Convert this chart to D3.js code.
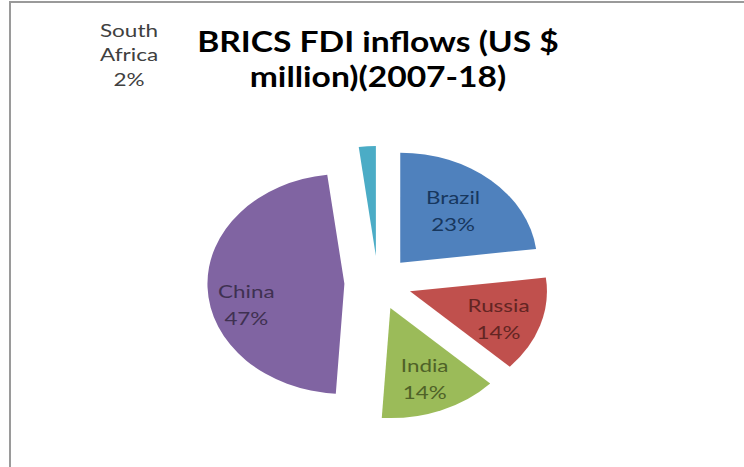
<!DOCTYPE html>
<html>
<head>
<meta charset="utf-8">
<script src="https://cdn.jsdelivr.net/npm/d3@7"></script>
<style>
  html, body { margin: 0; padding: 0; background: #fff; }
  svg { display: block; }
</style>
</head>
<body>
<svg id="chart" width="744" height="467"></svg>
<script>
// BRICS share of FDI inflows, 2007-18
const countries = ["Brazil", "Russia", "India", "China", "South Africa"];
const shares = [23, 14, 14, 47, 2];
const fills = ["#4F81BD", "#C0504D", "#9BBB59", "#8064A2", "#4BACC6"];
const labelInk = ["#17375E", "#632523", "#4F6228", "#3F3151", "#404040"];
const titleLines = ["BRICS FDI inflows (US $", "million)(2007-18)"];

const W = 744, H = 467;
const svg = d3.select("#chart");

// chart area frame (left and top edges)
svg.append("path")
  .attr("d", `M10,${H} L10,2 L${W},2`)
  .attr("fill", "none")
  .attr("stroke", "#9a9a9a")
  .attr("stroke-width", 2);

// title
svg.append("g")
  .attr("transform", "translate(378,0) scale(1.2,1)")
  .selectAll("text")
  .data(titleLines)
  .join("text")
  .attr("x", 0)
  .attr("y", (d, i) => 52 + i * 35)
  .attr("text-anchor", "middle")
  .attr("font-family", "Lato, 'Open Sans', sans-serif")
  .attr("font-weight", "bold")
  .attr("font-size", 28)
  .attr("fill", "#000")
  .text(d => d);

// the plot is wider than tall: draw a circular pie and stretch it horizontally
const sx = 1.245;
const r = 110;
const explode = 27;
const cx = 378, cy = 283;

const pie = d3.pie().sort(null).value(d => d.value);
const slices = pie(countries.map((c, i) => ({ name: c, value: shares[i], i })));

const arc = d3.arc().innerRadius(0).outerRadius(r);
const labelArc = d3.arc().innerRadius(r * 0.68).outerRadius(r * 0.68);

// small best-fit adjustments of the in-slice labels (unstretched units)
const labelShift = { Brazil: [-7, 3], Russia: [0, 4], India: [0, 0], China: [-4, 18] };

const plot = svg.append("g")
  .attr("transform", `translate(${cx},${cy}) scale(${sx},1)`);

const offset = d => {
  const a = (d.startAngle + d.endAngle) / 2;
  return [Math.sin(a) * explode, -Math.cos(a) * explode];
};

plot.selectAll("path.slice")
  .data(slices)
  .join("path")
  .attr("class", "slice")
  .attr("d", arc)
  .attr("fill", d => fills[d.data.i])
  .attr("transform", d => `translate(${offset(d)})`);

// in-slice labels (all but the smallest slice)
const inside = slices.filter(d => d.data.value >= 5);
const lab = plot.selectAll("g.lab")
  .data(inside)
  .join("g")
  .attr("class", "lab")
  .attr("transform", d => {
    const [ox, oy] = offset(d);
    const [lx, ly] = labelArc.centroid(d);
    const [nx, ny] = labelShift[d.data.name] || [0, 0];
    return `translate(${ox + lx + nx},${oy + ly + ny})`;
  });

lab.selectAll("text")
  .data(d => [d.data.name, d.data.value + "%"].map(t => ({ t, i: d.data.i })))
  .join("text")
  .attr("x", 0)
  .attr("y", (d, k) => k === 0 ? -6 : 21)
  .attr("text-anchor", "middle")
  .attr("font-family", "Lato, 'Open Sans', sans-serif")
  .attr("font-size", 18)
  .attr("fill", d => labelInk[d.i])
  .text(d => d.t);

// label for the smallest slice sits outside the pie, top left
const sa = slices.find(d => d.data.value < 5);
const saLines = ["South", "Africa", sa.data.value + "%"];
svg.append("g")
  .attr("transform", "translate(129,0) scale(1.25,1)")
  .selectAll("text")
  .data(saLines)
  .join("text")
  .attr("x", 0)
  .attr("y", (d, i) => 37 + i * 24.5)
  .attr("text-anchor", "middle")
  .attr("font-family", "Lato, 'Open Sans', sans-serif")
  .attr("font-size", 18)
  .attr("fill", "#404040")
  .text(d => d);
</script>
</body>
</html>
